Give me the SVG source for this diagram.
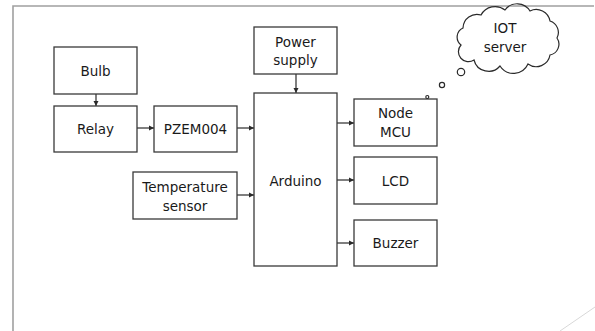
<svg xmlns="http://www.w3.org/2000/svg" width="595" height="331" viewBox="0 0 595 331">
<style>
.box{fill:#fff;stroke:#3a3a3a;stroke-width:1.3}
.t{font-family:"DejaVu Sans","Liberation Sans",sans-serif;font-size:13.5px;fill:#1a1a1a;text-anchor:middle}
.c{fill:none;stroke:#2a2a2a;stroke-width:1.2}
.frame{fill:none;stroke:#a0a0a0;stroke-width:1.6}
</style>
<defs>
<marker id="ah" markerWidth="6" markerHeight="6" refX="5" refY="3" orient="auto" markerUnits="userSpaceOnUse">
<path d="M0,0.5 L5,3 L0,5.5 Z" fill="#2a2a2a"/>
</marker>
</defs>
<rect width="595" height="331" fill="#fff"/>
<path class="frame" d="M13,331 V6 H594"/>
<line x1="560" y1="331" x2="595" y2="307" stroke="#d8d8d8" stroke-width="1"/>
<g id="connectors">
<line class="c" x1="96" y1="94" x2="96" y2="106" marker-end="url(#ah)"/>
<line class="c" x1="137" y1="128" x2="154" y2="128" marker-end="url(#ah)"/>
<line class="c" x1="237" y1="128" x2="254" y2="128" marker-end="url(#ah)"/>
<line class="c" x1="296" y1="74" x2="296" y2="93" marker-end="url(#ah)"/>
<line class="c" x1="237" y1="195" x2="254" y2="195" marker-end="url(#ah)"/>
<line class="c" x1="337" y1="123" x2="354" y2="123" marker-end="url(#ah)"/>
<line class="c" x1="337" y1="180" x2="354" y2="180" marker-end="url(#ah)"/>
<line class="c" x1="337" y1="243" x2="354" y2="243" marker-end="url(#ah)"/>
</g>
<g id="bulb"><rect class="box" x="54" y="47" width="83" height="47"/><text class="t" x="95.5" y="76">Bulb</text></g>
<g id="relay"><rect class="box" x="54" y="106" width="83" height="46"/><text class="t" x="95.5" y="134">Relay</text></g>
<g id="pzem"><rect class="box" x="154" y="106" width="83" height="46"/><text class="t" x="195.5" y="134">PZEM004</text></g>
<g id="power"><rect class="box" x="254" y="27" width="83" height="47"/><text class="t" x="295.5" y="47">Power</text><text class="t" x="295.5" y="65">supply</text></g>
<g id="arduino"><rect class="box" x="254" y="93" width="83" height="173"/><text class="t" x="295.5" y="186">Arduino</text></g>
<g id="temp"><rect class="box" x="133" y="172" width="104" height="47"/><text class="t" x="185" y="192">Temperature</text><text class="t" x="185" y="211">sensor</text></g>
<g id="nodemcu"><rect class="box" x="354" y="99" width="83" height="47"/><text class="t" x="395.5" y="118">Node</text><text class="t" x="395.5" y="137">MCU</text></g>
<g id="lcd"><rect class="box" x="354" y="157" width="83" height="47"/><text class="t" x="395.5" y="186">LCD</text></g>
<g id="buzzer"><rect class="box" x="354" y="220" width="83" height="46"/><text class="t" x="395.5" y="248">Buzzer</text></g>
<g id="iot">
<path class="c" d="M461,45 A10,10 0 0 1 463,28 A14,14 0 0 1 481,15 A16,16 0 0 1 505,10 A15,15 0 0 1 530,11 A14,14 0 0 1 550,21 A12,12 0 0 1 557,38 A11,11 0 0 1 550,55 A14,14 0 0 1 528,64 A16,16 0 0 1 500,66 A15,15 0 0 1 474,60 A10,10 0 0 1 461,45 Z"/>
<circle class="c" cx="461" cy="72" r="3.7"/>
<circle class="c" cx="442" cy="85" r="2.6"/>
<circle class="c" cx="427.3" cy="97" r="1.5"/>
<text class="t" x="505" y="33">IOT</text>
<text class="t" x="505" y="52">server</text>
</g>
</svg>
